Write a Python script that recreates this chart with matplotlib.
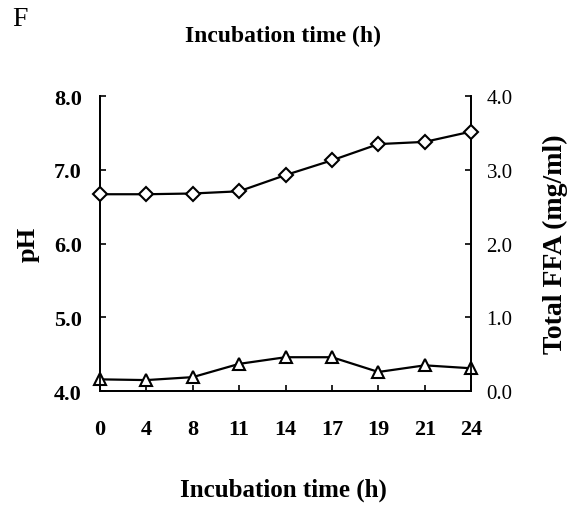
import numpy as np
import matplotlib.pyplot as plt

# Datos
hours = ['0', '4', '8', '11', '14', '17', '19', '21', '24']
ph = [4.16, 4.15, 4.19, 4.37, 4.46, 4.46, 4.26, 4.35, 4.31]
ffa = [2.67, 2.67, 2.68, 2.71, 2.93, 3.13, 3.35, 3.38, 3.52]

plt.rcParams['font.family'] = ['Liberation Serif', 'DejaVu Serif']

fig = plt.figure(figsize=(5.74, 5.06), dpi=100)
ax = fig.add_axes([0.174, 0.225, 0.647, 0.583])
ax2 = ax.twinx()

x = np.arange(len(hours))
ax.plot(x, ph, color='black', lw=1.6, marker='^', ms=8.5, mfc='white', mec='black', mew=1.5, clip_on=False, zorder=5)
ax2.plot(x, ffa, color='black', lw=1.6, marker='D', ms=7, mfc='white', mec='black', mew=1.5, clip_on=False, zorder=5)

ax.set_xlim(0, len(hours) - 1)
ax.set_ylim(4.0, 8.0)
ax2.set_ylim(0.0, 4.0)
ax.set_xticks(x)
ax.set_xticklabels(hours, fontsize=16, fontweight='bold')
ax.set_yticks([4.0, 5.0, 6.0, 7.0, 8.0])
ax.set_yticklabels([f'{v:.1f}' for v in [4, 5, 6, 7, 8]], fontsize=16, fontweight='bold')
ax2.set_yticks([0.0, 1.0, 2.0, 3.0, 4.0])
ax2.set_yticklabels([f'{v:.1f}' for v in [0, 1, 2, 3, 4]], fontsize=15)

for a in (ax, ax2):
    a.spines['top'].set_visible(False)
    for s in a.spines.values():
        s.set_linewidth(1.3)
ax.tick_params(axis='x', direction='in', length=4, width=1.2, pad=20)
ax.tick_params(axis='y', direction='in', length=4, width=1.2, pad=13)
ax2.tick_params(axis='y', direction='in', length=4, width=1.2, pad=11)

ax.set_ylabel('pH', fontsize=19, fontweight='bold', labelpad=10)
ax2.set_ylabel('Total FFA (mg/ml)', fontsize=20, fontweight='bold', labelpad=22)
fig.text(0.493, 0.032, 'Incubation time (h)', fontsize=18, fontweight='bold', ha='center', va='center')
fig.text(0.493, 0.928, 'Incubation time (h)', fontsize=17, fontweight='bold', ha='center', va='center')
fig.text(0.022, 0.962, 'F', fontsize=20, ha='left', va='center')

fig.savefig('out.png', dpi=100)
